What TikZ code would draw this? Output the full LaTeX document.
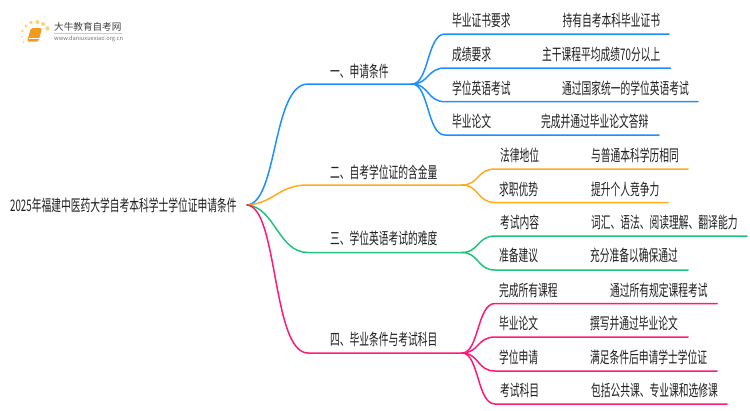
\documentclass[tikz,border=0pt]{standalone}
\usepackage{fontspec}
\setmainfont{Noto Sans CJK SC}
\definecolor{branchblue}{HTML}{1E8FFF}
\definecolor{branchorange}{HTML}{FFAC1C}
\definecolor{branchgreen}{HTML}{1FC47C}
\definecolor{branchpink}{HTML}{FF1A75}
\definecolor{logoorange}{HTML}{F59A1E}
\definecolor{logoyellow}{HTML}{FDD27A}
\begin{document}
\begin{tikzpicture}[x=1pt,y=-1pt,
   every node/.style={anchor=west,inner sep=0pt},
   txt/.style={font=\fontsize{16}{18}\selectfont,text=black!88,xscale=.61,transform shape},
   branch/.style={line width=1.5pt,line cap=round},
   dot/.style={fill=logoyellow,draw=none}]
\useasboundingbox (0,0) rectangle (750,410);

% logo
\fill[dot] (47.5,28.5) circle (2.2);
\fill[dot] (43,24) circle (2);
\fill[dot] (37.5,22) circle (2);
\fill[dot] (31,22.5) circle (1.9);
\fill[dot] (26,26) circle (1.7);
\fill[dot] (22.5,31) circle (1.3);
\fill[dot] (22,36.5) circle (1);
\fill[dot] (23.5,42) circle (.8);
\fill[logoorange] (31,28) [rounded corners=1.5] -- (42,28) -- (38.5,41.5) -- (27,41.5) -- cycle;
\draw[white,line width=.5pt] (29,38.5) -- (38.5,38.5);
\draw[black!20,line width=.6pt] (54,33.5) -- (122,33.5);
\node[font=\fontsize{9.6}{12}\selectfont,text=black!75] (logoname) at (54,27) {大牛教育自考网};
\node[font=\fontsize{5.7}{7}\selectfont,text=black!55] (logourl) at (54,39) {www.daniuxuexiao.org.cn};

% root
\node[txt] (root) at (10,205) {2025年福建中医药大学自考本科学士学位证申请条件};
\coordinate (rootout) at (247,205);

% first level
\coordinate (a0) at (308,84);
\coordinate (a1) at (412,84);
\coordinate (b0) at (308,185);
\coordinate (b1) at (462,185);
\coordinate (c0) at (308,252.5);
\coordinate (c1) at (462,252.5);
\coordinate (d0) at (308,353);
\coordinate (d1) at (462,353);
\node[txt] (atext) at (330,71) {一、申请条件};
\node[txt] (btext) at (330,172) {二、自考学位证的含金量};
\node[txt] (ctext) at (330,238.5) {三、学位英语考试的难度};
\node[txt] (dtext) at (330,339.5) {四、毕业条件与考试科目};
\draw[branch,branchblue] (rootout) .. controls (278,203) and (272,84) .. (a0) -- (a1);
\draw[branch,branchorange] (rootout) .. controls (275,203) and (278,185) .. (b0) -- (b1);
\draw[branch,branchgreen] (rootout) .. controls (275,207) and (278,252.5) .. (c0) -- (c1);
\draw[branch,branchpink] (rootout) .. controls (278,207) and (272,353) .. (d0) -- (d1);

% blue leaves
\foreach \name/\y/\xend in {a/34/669,b/68/670.5,c/101.7/698,d/135/659}{
  \coordinate (aleaf\name) at (445,\y);
  \coordinate (aend\name) at (\xend,\y);
  \draw[branch,branchblue] (a1) .. controls +(17,0) and +(-18,0) .. (aleaf\name) -- (aend\name);
}
\node[txt] (a1key) at (452,20.5) {毕业证书要求};
\node[txt] (a1val) at (562.5,20.5) {持有自考本科毕业证书};
\node[txt] (a2key) at (452,54) {成绩要求};
\node[txt] (a2val) at (542,54) {主干课程平均成绩70分以上};
\node[txt] (a3key) at (452,88) {学位英语考试};
\node[txt] (a3val) at (562,88) {通过国家统一的学位英语考试};
\node[txt] (a4key) at (452,121) {毕业论文};
\node[txt] (a4val) at (541,121) {完成并通过毕业论文答辩};

% orange leaves
\foreach \name/\y/\xend in {a/169/688,b/202.5/668}{
  \coordinate (bleaf\name) at (495,\y);
  \coordinate (bend\name) at (\xend,\y);
  \draw[branch,branchorange] (b1) .. controls +(17,0) and +(-18,0) .. (bleaf\name) -- (bend\name);
}
\node[txt] (b1key) at (500,155) {法律地位};
\node[txt] (b1val) at (591,155) {与普通本科学历相同};
\node[txt] (b2key) at (499,189) {求职优势};
\node[txt] (b2val) at (591,189) {提升个人竞争力};

% green leaves
\foreach \name/\y/\xend in {a/236/747,b/270/688}{
  \coordinate (cleaf\name) at (495,\y);
  \coordinate (cend\name) at (\xend,\y);
  \draw[branch,branchgreen] (c1) .. controls +(17,0) and +(-18,0) .. (cleaf\name) -- (cend\name);
}
\node[txt] (c1key) at (500,222.5) {考试内容};
\node[txt] (c1val) at (591,222.5) {词汇、语法、阅读理解、翻译能力};
\node[txt] (c2key) at (499,255.5) {准备建议};
\node[txt] (c2val) at (590,255.5) {充分准备以确保通过};

% pink leaves
\foreach \name/\y/\xend in {a/303.5/717,b/337/688,c/371/717,d/404/727}{
  \coordinate (dleaf\name) at (495,\y);
  \coordinate (dend\name) at (\xend,\y);
  \draw[branch,branchpink] (d1) .. controls +(17,0) and +(-18,0) .. (dleaf\name) -- (dend\name);
}
\node[txt] (d1key) at (499,290) {完成所有课程};
\node[txt] (d1val) at (610,290) {通过所有规定课程考试};
\node[txt] (d2key) at (499,323) {毕业论文};
\node[txt] (d2val) at (590,323) {撰写并通过毕业论文};
\node[txt] (d3key) at (499,357) {学位申请};
\node[txt] (d3val) at (590,357) {满足条件后申请学士学位证};
\node[txt] (d4key) at (500,390) {考试科目};
\node[txt] (d4val) at (591,390) {包括公共课、专业课和选修课};
\end{tikzpicture}
\end{document}
